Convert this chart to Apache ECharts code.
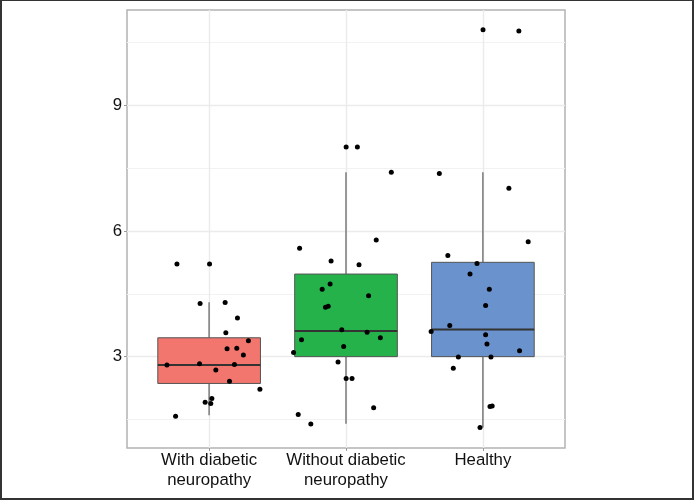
<!DOCTYPE html>
<html>
<head>
<meta charset="utf-8">
<script src="https://cdn.jsdelivr.net/npm/echarts@6/dist/echarts.min.js"></script>
<style>
    html, body { margin: 0; padding: 0; background: #fff; }
    #frame { position: absolute; left: 0; top: 0; width: 690px; height: 497px; border-left: 2px solid #333; border-right: 2px solid #333; border-top: 1px solid #333; border-bottom: 2px solid #333; }
    #chart { width: 694px; height: 500px; }
</style>
</head>
<body>
<div id="chart"></div>
<div id="frame"></div>
<script>
// groups on the x axis (positions 1, 2, 3)
const categories = ['With diabetic\nneuropathy', 'Without diabetic\nneuropathy', 'Healthy'];
const boxColors = ['#F2766E', '#26B24B', '#6A92CD'];

// box summaries: [min, Q1, median, Q3, max]
const boxStats = [
    [1.6, 2.36, 2.80, 3.45, 4.30],
    [1.40, 3.00, 3.61, 4.97, 7.40],
    [1.31, 3.00, 3.65, 5.25, 7.40]
];

// jittered points: x position and value
const withX = [0.765, 1.003, 0.934, 1.117, 1.207, 1.122, 1.287, 1.131, 1.202, 1.25, 0.692, 0.930, 1.185, 1.049, 1.149, 1.371, 1.020, 0.971, 1.012, 0.755];
const withY = [5.21, 5.21, 4.27, 4.29, 3.92, 3.57, 3.38, 3.19, 3.20, 3.04, 2.80, 2.83, 2.81, 2.68, 2.41, 2.22, 2.00, 1.91, 1.88, 1.58];

const withoutX = [2.001, 2.083, 2.331, 2.221, 1.661, 1.891, 2.095, 1.884, 1.826, 2.165, 1.870, 1.850, 1.969, 2.154, 1.675, 2.251, 1.983, 1.617, 1.942, 2.001, 2.044, 2.202, 1.651, 1.743];
const withoutY = [8.00, 8.00, 7.40, 5.78, 5.585, 5.28, 5.19, 4.73, 4.61, 4.45, 4.20, 4.18, 3.64, 3.58, 3.40, 3.45, 3.24, 3.10, 2.87, 2.48, 2.48, 1.78, 1.62, 1.39];

const healthyX = [3.001, 3.263, 2.682, 3.190, 3.331, 2.744, 2.957, 2.906, 3.047, 3.020, 2.758, 2.622, 3.020, 3.030, 3.268, 2.821, 3.059, 2.784, 3.052, 3.068, 2.979];
const healthyY = [10.80, 10.77, 7.37, 7.02, 5.74, 5.41, 5.22, 4.97, 4.61, 4.22, 3.74, 3.60, 3.52, 3.30, 3.14, 2.99, 2.99, 2.72, 1.81, 1.82, 1.31];

const yTicks = [3, 6, 9];
const yMinor = [1.5, 4.5, 7.5, 10.5];

function zip(xs, ys) {
    return xs.map(function(x, i) { return [x, ys[i]]; });
}
const points = zip(withX, withY).concat(zip(withoutX, withoutY), zip(healthyX, healthyY));

const boxData = boxStats.map(function(s, i) {
    return [i + 1].concat(s);
});

function renderBox(params, api) {
    const x = api.value(0);
    const lo = api.value(1), q1 = api.value(2), med = api.value(3), q3 = api.value(4), hi = api.value(5);
    const half = 0.375;
    const pLT = api.coord([x - half, q3]);
    const pRB = api.coord([x + half, q1]);
    const pHi = api.coord([x, hi]);
    const pQ3 = api.coord([x, q3]);
    const pQ1 = api.coord([x, q1]);
    const pLo = api.coord([x, lo]);
    const pMl = api.coord([x - half, med]);
    const pMr = api.coord([x + half, med]);
    const whisker = { stroke: '#888', lineWidth: 1.7 };
    return {
        type: 'group',
        children: [
            { type: 'line', shape: { x1: pHi[0], y1: pHi[1], x2: pQ3[0], y2: pQ3[1] }, style: whisker },
            { type: 'line', shape: { x1: pQ1[0], y1: pQ1[1], x2: pLo[0], y2: pLo[1] }, style: whisker },
            {
                type: 'rect',
                shape: { x: pLT[0], y: pLT[1], width: pRB[0] - pLT[0], height: pRB[1] - pLT[1] },
                style: { fill: boxColors[params.dataIndex], stroke: '#555', lineWidth: 1 }
            },
            { type: 'line', shape: { x1: pMl[0], y1: pMl[1], x2: pMr[0], y2: pMr[1] }, style: { stroke: '#333', lineWidth: 2 } }
        ]
    };
}

const myChart = echarts.init(document.getElementById('chart'));
const gridColor = '#EBEBEB';
const markData = yTicks.map(function(v) {
    return { yAxis: v, lineStyle: { color: gridColor, width: 1.4, type: 'solid' } };
}).concat(yMinor.map(function(v) {
    return { yAxis: v, lineStyle: { color: '#F2F2F2', width: 1, type: 'solid' } };
}), [1, 2, 3].map(function(v) {
    return { xAxis: v, lineStyle: { color: gridColor, width: 1.4, type: 'solid' } };
}));

const option = {
    animation: false,
    grid: {
        left: 127, right: 129, top: 10, bottom: 52,
        show: true, borderColor: '#B3B3B3', borderWidth: 1.5, backgroundColor: 'transparent'
    },
    xAxis: {
        type: 'value',
        min: 0.4,
        max: 3.6,
        axisLine: { show: false },
        splitLine: { show: false },
        axisTick: { show: true, length: 3, lineStyle: { color: '#999' }, customValues: [1, 2, 3] },
        axisLabel: {
            customValues: [1, 2, 3],
            margin: 2,
            fontFamily: 'Liberation Sans',
            fontSize: 16.8,
            lineHeight: 20,
            color: '#111',
            formatter: function(v) { return categories[Math.round(v) - 1] || ''; }
        }
    },
    yAxis: {
        type: 'value',
        min: 0.82,
        max: 11.27,
        axisLine: { show: false },
        splitLine: { show: false },
        axisTick: { show: true, length: 3, lineStyle: { color: '#999' }, customValues: yTicks },
        axisLabel: {
            customValues: yTicks,
            margin: 5,
            fontFamily: 'Liberation Sans',
            fontSize: 16.8,
            color: '#111'
        }
    },
    series: [{
        type: 'scatter',
        data: [],
        z: 0,
        silent: true,
        markLine: { z: 0, silent: true, symbol: 'none', label: { show: false }, data: markData }
    }, {
        type: 'custom',
        z: 2,
        renderItem: renderBox,
        encode: { x: 0, y: [1, 2, 3, 4, 5] },
        data: boxData
    }, {
        type: 'scatter',
        z: 3,
        symbolSize: 5,
        itemStyle: { color: '#000', opacity: 1 },
        data: points
    }]
};
myChart.setOption(option);
</script>
</body>
</html>
